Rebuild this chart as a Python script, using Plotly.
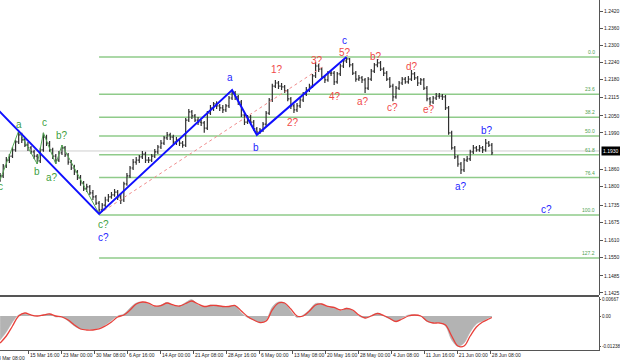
import plotly.graph_objects as go

# ---------------- price data (aggregated H4 bars, bar index = H4 bar count from 8 Mar 08:00) ----------------
bar_idx = list(range(4, 484, 3))
opens = [1.1824,1.1838,1.1873,1.1894,1.1908,1.1930,1.1958,1.1983,1.1965,1.1947,
         1.1937,1.1923,1.1908,1.1891,1.1930,1.1975,1.1954,1.1930,1.1908,1.1894,
         1.1919,1.1937,1.1912,1.1887,1.1866,1.1852,1.1831,1.1813,1.1792,1.1799,
         1.1778,1.1764,1.1742,1.1718,1.1735,1.1753,1.1764,1.1771,1.1781,1.1764,
         1.1753,1.1810,1.1838,1.1866,1.1887,1.1894,1.1905,1.1915,1.1894,1.1894,
         1.1908,1.1923,1.1940,1.1954,1.1972,1.1983,1.1975,1.1958,1.1965,1.1954,
         1.1947,1.2035,1.2064,1.2050,1.2035,1.2028,1.2025,1.2007,1.2060,1.2078,
         1.2092,1.2085,1.2078,1.2071,1.2085,1.2113,1.2131,1.2117,1.2099,1.2053,
         1.2028,1.2046,1.2028,1.2004,1.1993,1.2000,1.2021,1.2060,1.2106,1.2155,
         1.2166,1.2155,1.2152,1.2138,1.2110,1.2085,1.2071,1.2085,1.2106,1.2127,
         1.2141,1.2155,1.2191,1.2226,1.2215,1.2187,1.2177,1.2201,1.2201,1.2170,
         1.2198,1.2226,1.2244,1.2251,1.2230,1.2201,1.2180,1.2184,1.2177,1.2148,
         1.2180,1.2208,1.2230,1.2237,1.2215,1.2201,1.2180,1.2155,1.2117,1.2148,
         1.2166,1.2180,1.2170,1.2180,1.2198,1.2184,1.2166,1.2177,1.2148,1.2110,
         1.2099,1.2113,1.2120,1.2120,1.2117,1.2078,1.1990,1.1937,1.1905,1.1880,
         1.1859,1.1894,1.1898,1.1923,1.1937,1.1930,1.1937,1.1930,1.1954,1.1947]
highs = [1.1848,1.1880,1.1905,1.1915,1.1940,1.1965,1.1997,1.1990,1.1972,1.1958,
         1.1944,1.1930,1.1915,1.1937,1.1990,1.1983,1.1961,1.1937,1.1915,1.1926,
         1.1947,1.1944,1.1919,1.1894,1.1877,1.1859,1.1841,1.1820,1.1810,1.1806,
         1.1788,1.1771,1.1749,1.1742,1.1764,1.1774,1.1781,1.1792,1.1788,1.1774,
         1.1817,1.1848,1.1873,1.1898,1.1905,1.1912,1.1926,1.1923,1.1905,1.1915,
         1.1933,1.1947,1.1965,1.1979,1.1993,1.1990,1.1983,1.1975,1.1972,1.1961,
         1.2042,1.2074,1.2071,1.2057,1.2046,1.2035,1.2032,1.2067,1.2088,1.2099,
         1.2102,1.2092,1.2088,1.2092,1.2120,1.2141,1.2138,1.2124,1.2106,1.2060,
         1.2053,1.2053,1.2035,1.2011,1.2007,1.2028,1.2067,1.2113,1.2163,1.2177,
         1.2173,1.2166,1.2159,1.2145,1.2117,1.2092,1.2095,1.2113,1.2134,1.2152,
         1.2163,1.2198,1.2240,1.2233,1.2222,1.2194,1.2208,1.2212,1.2208,1.2205,
         1.2233,1.2251,1.2258,1.2254,1.2237,1.2208,1.2194,1.2191,1.2184,1.2187,
         1.2215,1.2237,1.2251,1.2244,1.2222,1.2208,1.2187,1.2163,1.2155,1.2173,
         1.2187,1.2187,1.2191,1.2212,1.2205,1.2191,1.2184,1.2184,1.2155,1.2117,
         1.2120,1.2131,1.2131,1.2127,1.2124,1.2085,1.1997,1.1944,1.1912,1.1887,
         1.1901,1.1908,1.1930,1.1947,1.1944,1.1947,1.1944,1.1968,1.1961,1.1954]
lows = [1.1817,1.1831,1.1866,1.1884,1.1901,1.1923,1.1951,1.1954,1.1940,1.1926,
        1.1915,1.1898,1.1880,1.1884,1.1923,1.1944,1.1923,1.1898,1.1880,1.1887,
        1.1912,1.1905,1.1877,1.1859,1.1841,1.1824,1.1803,1.1785,1.1781,1.1771,
        1.1753,1.1735,1.1704,1.1711,1.1728,1.1746,1.1757,1.1764,1.1753,1.1739,
        1.1746,1.1803,1.1831,1.1859,1.1877,1.1884,1.1898,1.1884,1.1884,1.1887,
        1.1901,1.1915,1.1933,1.1947,1.1965,1.1965,1.1951,1.1947,1.1944,1.1937,
        1.1940,1.2028,1.2039,1.2028,1.2018,1.2014,1.1990,1.2000,1.2053,1.2067,
        1.2074,1.2067,1.2060,1.2064,1.2078,1.2106,1.2106,1.2088,1.2046,1.2018,
        1.2021,1.2018,1.1997,1.1983,1.1986,1.1993,1.2014,1.2053,1.2099,1.2148,
        1.2145,1.2141,1.2131,1.2102,1.2074,1.2060,1.2064,1.2078,1.2099,1.2120,
        1.2134,1.2148,1.2184,1.2205,1.2180,1.2166,1.2170,1.2191,1.2159,1.2163,
        1.2191,1.2219,1.2237,1.2222,1.2194,1.2170,1.2173,1.2166,1.2131,1.2141,
        1.2173,1.2201,1.2222,1.2208,1.2191,1.2173,1.2148,1.2102,1.2110,1.2141,
        1.2159,1.2163,1.2163,1.2173,1.2177,1.2155,1.2159,1.2141,1.2102,1.2088,
        1.2092,1.2106,1.2110,1.2106,1.2071,1.1983,1.1930,1.1898,1.1870,1.1845,
        1.1852,1.1887,1.1891,1.1915,1.1923,1.1923,1.1919,1.1923,1.1940,1.1912]
closes = [1.1838,1.1873,1.1894,1.1908,1.1930,1.1958,1.1983,1.1965,1.1947,1.1937,
          1.1923,1.1908,1.1891,1.1930,1.1975,1.1954,1.1930,1.1908,1.1894,1.1919,
          1.1937,1.1912,1.1887,1.1866,1.1852,1.1831,1.1813,1.1792,1.1799,1.1778,
          1.1764,1.1742,1.1718,1.1735,1.1753,1.1764,1.1771,1.1781,1.1764,1.1753,
          1.1810,1.1838,1.1866,1.1887,1.1894,1.1905,1.1915,1.1894,1.1894,1.1908,
          1.1923,1.1940,1.1954,1.1972,1.1983,1.1975,1.1958,1.1965,1.1954,1.1947,
          1.2035,1.2064,1.2050,1.2035,1.2028,1.2025,1.2007,1.2060,1.2078,1.2092,
          1.2085,1.2078,1.2071,1.2085,1.2113,1.2131,1.2117,1.2099,1.2053,1.2028,
          1.2046,1.2028,1.2004,1.1993,1.2000,1.2021,1.2060,1.2106,1.2155,1.2166,
          1.2155,1.2152,1.2138,1.2110,1.2085,1.2071,1.2085,1.2106,1.2127,1.2141,
          1.2155,1.2191,1.2226,1.2215,1.2187,1.2177,1.2201,1.2201,1.2170,1.2198,
          1.2226,1.2244,1.2251,1.2230,1.2201,1.2180,1.2184,1.2177,1.2148,1.2180,
          1.2208,1.2230,1.2237,1.2215,1.2201,1.2180,1.2155,1.2117,1.2148,1.2166,
          1.2180,1.2170,1.2180,1.2198,1.2184,1.2166,1.2177,1.2148,1.2110,1.2099,
          1.2113,1.2120,1.2120,1.2117,1.2078,1.1990,1.1937,1.1905,1.1880,1.1859,
          1.1894,1.1898,1.1923,1.1937,1.1930,1.1937,1.1930,1.1954,1.1947,1.1919]

current_price = 1.1926
current_price_text = "1.1930"

# ---------------- MACD ----------------
macd_idx = list(range(4, 479, 6)) + [481]
macd_hist = [-0.00979,-0.00653,-0.00245,0.00041,0.00082,0.00020,0.00000,0.00041,0.00082,-0.00041,
             -0.00041,-0.00204,-0.00408,-0.00530,-0.00530,-0.00551,-0.00490,-0.00367,-0.00184,0.00000,
             0.00082,0.00326,0.00530,0.00571,0.00490,0.00388,0.00449,0.00551,0.00428,0.00408,
             0.00551,0.00667,0.00449,0.00367,0.00449,0.00428,0.00367,0.00388,0.00428,0.00122,
             -0.00061,-0.00163,-0.00265,-0.00163,0.00367,0.00571,0.00530,0.00204,-0.00061,0.00041,
             0.00245,0.00510,0.00490,0.00367,0.00347,0.00204,0.00326,0.00224,0.00000,-0.00082,
             0.00020,0.00122,0.00000,-0.00122,-0.00224,-0.00082,0.00041,0.00041,0.00000,-0.00224,
             -0.00286,-0.00265,-0.00408,-0.00979,-0.01238,-0.01102,-0.00653,-0.00326,-0.00204,-0.00082,
             -0.00041]
macd_signal = [-0.01102,-0.00816,-0.00408,0.00000,0.00122,0.00041,0.00000,0.00041,0.00082,0.00000,
               -0.00041,-0.00163,-0.00367,-0.00530,-0.00571,-0.00571,-0.00530,-0.00408,-0.00245,-0.00041,
               0.00041,0.00245,0.00490,0.00571,0.00530,0.00408,0.00428,0.00530,0.00449,0.00408,
               0.00510,0.00612,0.00490,0.00388,0.00428,0.00428,0.00388,0.00388,0.00428,0.00204,
               -0.00020,-0.00163,-0.00265,-0.00204,0.00245,0.00530,0.00530,0.00286,0.00000,0.00000,
               0.00204,0.00449,0.00490,0.00388,0.00347,0.00245,0.00306,0.00245,0.00041,-0.00082,
               0.00000,0.00102,0.00020,-0.00102,-0.00224,-0.00122,0.00000,0.00041,0.00000,-0.00204,
               -0.00286,-0.00286,-0.00367,-0.00816,-0.01224,-0.01224,-0.00816,-0.00449,-0.00245,-0.00122,
               -0.00061]

# ---------------- axes labels ----------------
date_ticks = [0, 32, 64, 96, 128, 160, 192, 224, 256, 288, 320, 352, 384, 416, 448, 480]
date_labels = ["8 Mar 08:00", "15 Mar 16:00", "23 Mar 00:00", "30 Mar 08:00", "6 Apr 16:00",
               "14 Apr 00:00", "21 Apr 08:00", "28 Apr 16:00", "6 May 00:00", "13 May 08:00",
               "20 May 16:00", "28 May 00:00", "4 Jun 08:00", "11 Jun 16:00", "21 Jun 00:00",
               "28 Jun 08:00"]
price_labels = ["1.2420", "1.2360", "1.2300", "1.2240", "1.2180", "1.2115", "1.2050", "1.1990",
                "1.1860", "1.1800", "1.1735", "1.1675", "1.1610", "1.1550", "1.1485", "1.1425"]
macd_labels = ["0.00667", "0.00", "-0.01238"]

# ---------------- Fibonacci levels ----------------
fib_names = ["0.0", "23.6", "38.2", "50.0", "61.8", "76.4", "100.0", "127.2"]
fib_prices = [1.2258, 1.2126, 1.2045, 1.1979, 1.1913, 1.1832, 1.1700, 1.1548]
fib_start = 100

# ---------------- wave markup ----------------
blue_wave_idx = [2, 100, 229, 253, 340]
blue_wave_px = [1.2071, 1.1704, 1.2141, 1.1983, 1.2258]
green_wave_idx = [4, 22, 40, 46, 58, 64, 100]
green_wave_px = [1.1824, 1.1997, 1.1880, 1.1990, 1.1880, 1.1947, 1.1704]
red_dot_idx = [100, 318]
red_dot_px = [1.1704, 1.2226]

green_labels = [("c", 4, 1.1799), ("a", 22.3, 1.2021), ("b", 39.8, 1.1852), ("c", 46.6, 1.2025),
                ("a?", 54.3, 1.1834), ("b?", 64, 1.1979), ("c?", 103.8, 1.1665)]
blue_labels = [("c?", 103.8, 1.1619), ("a", 227, 1.2184), ("b", 252, 1.1940), ("c", 338.5, 1.2316),
               ("a?", 451, 1.1799), ("b?", 476.2, 1.1997), ("c?", 534.4, 1.1721)]
red_labels = [("1?", 272.5, 1.2212), ("2?", 288, 1.2025), ("3?", 311.3, 1.2247), ("4?", 328.8, 1.2117),
              ("5?", 338.5, 1.2273), ("a?", 356, 1.2099), ("b?", 368.6, 1.2261), ("c?", 385, 1.2078),
              ("d?", 403.5, 1.2226), ("e?", 420, 1.2071)]

X_RANGE = [3.88, 584.9]
Y_RANGE = [1.14176, 1.2459]
M_RANGE = [-0.01387, 0.00775]
FONT = "Liberation Sans"

fig = go.Figure()

fig.add_trace(go.Ohlc(
    x=bar_idx, open=opens, high=highs, low=lows, close=closes,
    increasing=dict(line=dict(color="#303030", width=1.2)),
    decreasing=dict(line=dict(color="#303030", width=1.2)),
    tickwidth=0.4, xaxis="x", yaxis="y", hoverinfo="skip"))

fig.add_trace(go.Scatter(x=green_wave_idx, y=green_wave_px, mode="lines",
                         line=dict(color="#55aa55", width=1), xaxis="x", yaxis="y", hoverinfo="skip"))
fig.add_trace(go.Scatter(x=red_dot_idx, y=red_dot_px, mode="lines",
                         line=dict(color="#f08a8a", width=1, dash="dot"), xaxis="x", yaxis="y", hoverinfo="skip"))
fig.add_trace(go.Scatter(x=blue_wave_idx, y=blue_wave_px, mode="lines",
                         line=dict(color="#1010ff", width=2), xaxis="x", yaxis="y", hoverinfo="skip"))

fig.add_trace(go.Scatter(x=macd_idx, y=macd_hist, mode="lines", fill="tozeroy",
                         fillcolor="#b3b3b3", line=dict(color="#b3b3b3", width=0.5, shape="spline"),
                         xaxis="x2", yaxis="y2", hoverinfo="skip"))
fig.add_trace(go.Scatter(x=macd_idx, y=macd_signal, mode="lines",
                         line=dict(color="#e8403a", width=1.3, shape="spline"),
                         xaxis="x2", yaxis="y2", hoverinfo="skip"))

shapes = []
for p in fib_prices:
    shapes.append(dict(type="line", xref="x", yref="y", x0=fib_start, x1=X_RANGE[1], y0=p, y1=p,
                       line=dict(color="#8fcb8a", width=1.5), layer="below"))
shapes.append(dict(type="line", xref="paper", yref="y", x0=0, x1=1, y0=current_price, y1=current_price,
                   line=dict(color="#cfcfcf", width=1), layer="below"))
shapes.append(dict(type="line", xref="paper", yref="paper", x0=0, x1=1, y0=1 - 296 / 350, y1=1 - 296 / 350,
                   line=dict(color="#555555", width=2)))

annotations = []
for name, p in zip(fib_names, fib_prices):
    annotations.append(dict(x=583, y=p, xref="x", yref="y", text=name, showarrow=False,
                            xanchor="right", yanchor="bottom", font=dict(size=5, color="#4f9f4f", family=FONT)))
for txt, xi, p in green_labels:
    annotations.append(dict(x=xi, y=p, xref="x", yref="y", text=txt, showarrow=False,
                            font=dict(size=10, color="#3f9f3f", family=FONT)))
for txt, xi, p in blue_labels:
    annotations.append(dict(x=xi, y=p, xref="x", yref="y", text=txt, showarrow=False,
                            font=dict(size=10, color="#1f1fff", family=FONT)))
for txt, xi, p in red_labels:
    annotations.append(dict(x=xi, y=p, xref="x", yref="y", text=txt, showarrow=False,
                            font=dict(size=10, color="#f04a4a", family=FONT)))
annotations.append(dict(x=1.004, y=current_price, xref="paper", yref="y", text=current_price_text,
                        showarrow=False, xanchor="left", bgcolor="#000000", borderpad=1,
                        font=dict(size=5, color="#ffffff", family=FONT)))
# first date label lies left of visible range
annotations.append(dict(x=(date_ticks[0] - X_RANGE[0]) / (X_RANGE[1] - X_RANGE[0]), y=0, xref="paper", yref="paper",
                        text=date_labels[0], showarrow=False, xanchor="left", yanchor="top", yshift=-3,
                        font=dict(size=5, color="#222222", family=FONT)))

axis_common = dict(showgrid=False, zeroline=False, automargin=False)
fig.update_layout(
    width=620, height=361, margin=dict(l=0, r=21, t=0, b=11),
    paper_bgcolor="white", plot_bgcolor="white", showlegend=False,
    shapes=shapes, annotations=annotations,
    xaxis=dict(domain=[0, 1], range=X_RANGE, anchor="y", showticklabels=False, ticks="",
               rangeslider=dict(visible=False), **axis_common),
    xaxis2=dict(domain=[0, 1], range=X_RANGE, anchor="y2", showline=True, linecolor="#555555",
                ticks="outside", ticklen=3, tickcolor="#555555", tickangle=0,
                tickvals=date_ticks[1:], ticktext=date_labels[1:], ticklabelposition="outside right",
                tickfont=dict(size=5, color="#222222", family=FONT), **axis_common),
    yaxis=dict(domain=[1 - 295 / 350, 1], range=Y_RANGE, anchor="x", side="right", showline=True,
               linecolor="#555555", ticks="outside", ticklen=3, tickcolor="#555555",
               tickvals=[float(t) for t in price_labels], ticktext=price_labels,
               tickfont=dict(size=5, color="#222222", family=FONT), **axis_common),
    yaxis2=dict(domain=[0, 53 / 350], range=M_RANGE, anchor="x2", side="right", showline=True,
                linecolor="#555555", ticks="outside", ticklen=1, tickcolor="#555555",
                tickvals=[float(t) for t in macd_labels], ticktext=macd_labels,
                tickfont=dict(size=4.6, color="#222222", family=FONT), **axis_common),
)

fig.write_html("out.html")
